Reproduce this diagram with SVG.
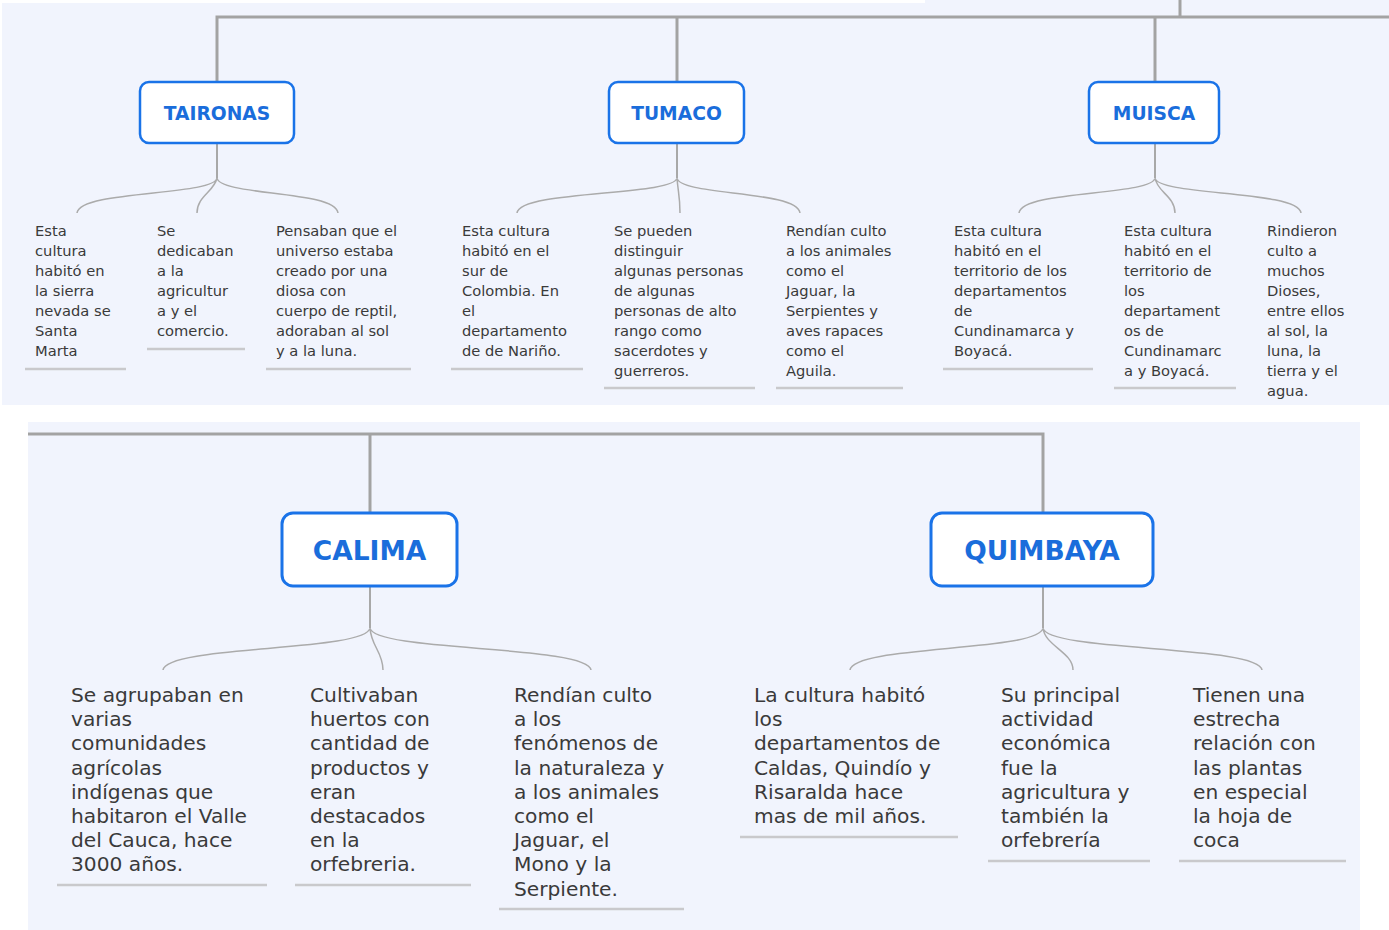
<svg xmlns="http://www.w3.org/2000/svg" width="1389" height="930" viewBox="0 0 1389 930">
<style>
.panel{fill:#f1f4fd}
.trunk{fill:none;stroke:#a3a3a3;stroke-width:3}
.stem{fill:none;stroke:#a8a8a8;stroke-width:2}
.branch{fill:none;stroke:#ababab;stroke-width:1.5}
.box{fill:#ffffff;stroke:#1a73e8;stroke-width:2.5}
.boxL{fill:#ffffff;stroke:#1a73e8;stroke-width:3}
.title{font-family:"DejaVu Sans",Verdana,sans-serif;font-weight:bold;fill:#1a6ddb;text-anchor:middle}
.t1{font-size:18.7px}
.t2{font-size:26.5px}
.txt{font-family:"DejaVu Sans",Verdana,sans-serif;fill:#3a3a3a}
.s{font-size:14.7px}
.b{font-size:20.2px}
.ul{stroke:#c9c9cc;stroke-width:2.5}
</style>
<rect width="1389" height="930" fill="#ffffff"/>
<rect class="panel" x="2" y="3" width="1387" height="402"/>
<rect class="panel" x="925" y="0" width="464" height="4"/>
<rect class="panel" x="28" y="422" width="1332" height="508"/>

<g id="connectors">
  <path class="trunk" d="M1180,0 V17 M1389,17 H217 V82 M677,17 V82 M1155,17 V82"/>
  <path class="stem" d="M217,143 V178 M677,143 V178 M1155,143 V178"/>
  <path class="branch" d="M217,178 C214,196 80,190 77,213 M217,178 C214,192 197,196 197,213 M217,178 C220,196 335,190 338,213"/>
  <path class="branch" d="M677,178 C674,196 520,190 517,213 M677,178 C678,192 680,196 680,213 M677,178 C680,196 797,190 800,213"/>
  <path class="branch" d="M1155,178 C1152,196 1022,190 1019,213 M1155,178 C1157,192 1175,196 1175,213 M1155,178 C1158,196 1298,190 1301,213"/>
  <path class="trunk" d="M28,434 H1043 V513 M370,434 V513"/>
  <path class="stem" d="M370,586 V628 M1043,586 V628"/>
  <path class="branch" d="M370,628 C366,652 166,645 163,670 M370,628 C371,646 383,652 383,670 M370,628 C374,652 588,645 591,670"/>
  <path class="branch" d="M1043,628 C1039,652 853,645 850,670 M1043,628 C1045,646 1073,652 1073,670 M1043,628 C1047,652 1259,645 1262,670"/>
  <g id="underlines">
    <line class="ul" x1="25" y1="369" x2="126" y2="369"/>
    <line class="ul" x1="147" y1="349" x2="245" y2="349"/>
    <line class="ul" x1="266" y1="369" x2="411" y2="369"/>
    <line class="ul" x1="451" y1="369" x2="583" y2="369"/>
    <line class="ul" x1="604" y1="388" x2="755" y2="388"/>
    <line class="ul" x1="776" y1="388" x2="903" y2="388"/>
    <line class="ul" x1="943" y1="369" x2="1093" y2="369"/>
    <line class="ul" x1="1114" y1="388" x2="1236" y2="388"/>
    <line class="ul" x1="57" y1="885" x2="267" y2="885"/>
    <line class="ul" x1="295" y1="885" x2="471" y2="885"/>
    <line class="ul" x1="499" y1="909" x2="684" y2="909"/>
    <line class="ul" x1="740" y1="837" x2="958" y2="837"/>
    <line class="ul" x1="988" y1="861" x2="1150" y2="861"/>
    <line class="ul" x1="1179" y1="861" x2="1346" y2="861"/>
  </g>
</g>

<g id="taironas">
  <rect class="box" x="140" y="82" width="154" height="61" rx="9"/>
  <text class="title t1" x="217" y="120">TAIRONAS</text>
</g>
<g id="tumaco">
  <rect class="box" x="609" y="82" width="135" height="61" rx="9"/>
  <text class="title t1" x="676.5" y="120">TUMACO</text>
</g>
<g id="muisca">
  <rect class="box" x="1089" y="82" width="130" height="61" rx="9"/>
  <text class="title t1" x="1154" y="120">MUISCA</text>
</g>
<g id="calima">
  <rect class="boxL" x="282" y="513" width="175" height="73" rx="11"/>
  <text class="title t2" x="369.5" y="560">CALIMA</text>
</g>
<g id="quimbaya">
  <rect class="boxL" x="931" y="513" width="222" height="73" rx="11"/>
  <text class="title t2" x="1042" y="560">QUIMBAYA</text>
</g>

<g id="taironas-1"><text class="txt s" y="236"><tspan x="35">Esta</tspan><tspan x="35" dy="20">cultura</tspan><tspan x="35" dy="20">habitó en</tspan><tspan x="35" dy="20">la sierra</tspan><tspan x="35" dy="20">nevada se</tspan><tspan x="35" dy="20">Santa</tspan><tspan x="35" dy="20">Marta</tspan></text></g>
<g id="taironas-2"><text class="txt s" y="236"><tspan x="157">Se</tspan><tspan x="157" dy="20">dedicaban</tspan><tspan x="157" dy="20">a la</tspan><tspan x="157" dy="20">agricultur</tspan><tspan x="157" dy="20">a y el</tspan><tspan x="157" dy="20">comercio.</tspan></text></g>
<g id="taironas-3"><text class="txt s" y="236"><tspan x="276">Pensaban que el</tspan><tspan x="276" dy="20">universo estaba</tspan><tspan x="276" dy="20">creado por una</tspan><tspan x="276" dy="20">diosa con</tspan><tspan x="276" dy="20">cuerpo de reptil,</tspan><tspan x="276" dy="20">adoraban al sol</tspan><tspan x="276" dy="20">y a la luna.</tspan></text></g>

<g id="tumaco-1"><text class="txt s" y="236"><tspan x="462">Esta cultura</tspan><tspan x="462" dy="20">habitó en el</tspan><tspan x="462" dy="20">sur de</tspan><tspan x="462" dy="20">Colombia. En</tspan><tspan x="462" dy="20">el</tspan><tspan x="462" dy="20">departamento</tspan><tspan x="462" dy="20">de de Nariño.</tspan></text></g>
<g id="tumaco-2"><text class="txt s" y="236"><tspan x="614">Se pueden</tspan><tspan x="614" dy="20">distinguir</tspan><tspan x="614" dy="20">algunas personas</tspan><tspan x="614" dy="20">de algunas</tspan><tspan x="614" dy="20">personas de alto</tspan><tspan x="614" dy="20">rango como</tspan><tspan x="614" dy="20">sacerdotes y</tspan><tspan x="614" dy="20">guerreros.</tspan></text></g>
<g id="tumaco-3"><text class="txt s" y="236"><tspan x="786">Rendían culto</tspan><tspan x="786" dy="20">a los animales</tspan><tspan x="786" dy="20">como el</tspan><tspan x="786" dy="20">Jaguar, la</tspan><tspan x="786" dy="20">Serpientes y</tspan><tspan x="786" dy="20">aves rapaces</tspan><tspan x="786" dy="20">como el</tspan><tspan x="786" dy="20">Aguila.</tspan></text></g>

<g id="muisca-1"><text class="txt s" y="236"><tspan x="954">Esta cultura</tspan><tspan x="954" dy="20">habitó en el</tspan><tspan x="954" dy="20">territorio de los</tspan><tspan x="954" dy="20">departamentos</tspan><tspan x="954" dy="20">de</tspan><tspan x="954" dy="20">Cundinamarca y</tspan><tspan x="954" dy="20">Boyacá.</tspan></text></g>
<g id="muisca-2"><text class="txt s" y="236"><tspan x="1124">Esta cultura</tspan><tspan x="1124" dy="20">habitó en el</tspan><tspan x="1124" dy="20">territorio de</tspan><tspan x="1124" dy="20">los</tspan><tspan x="1124" dy="20">departament</tspan><tspan x="1124" dy="20">os de</tspan><tspan x="1124" dy="20">Cundinamarc</tspan><tspan x="1124" dy="20">a y Boyacá.</tspan></text></g>
<g id="muisca-3"><text class="txt s" y="236"><tspan x="1267">Rindieron</tspan><tspan x="1267" dy="20">culto a</tspan><tspan x="1267" dy="20">muchos</tspan><tspan x="1267" dy="20">Dioses,</tspan><tspan x="1267" dy="20">entre ellos</tspan><tspan x="1267" dy="20">al sol, la</tspan><tspan x="1267" dy="20">luna, la</tspan><tspan x="1267" dy="20">tierra y el</tspan><tspan x="1267" dy="20">agua.</tspan></text></g>

<g id="calima-1"><text class="txt b" y="702"><tspan x="71">Se agrupaban en</tspan><tspan x="71" dy="24.2">varias</tspan><tspan x="71" dy="24.2">comunidades</tspan><tspan x="71" dy="24.2">agrícolas</tspan><tspan x="71" dy="24.2">indígenas que</tspan><tspan x="71" dy="24.2">habitaron el Valle</tspan><tspan x="71" dy="24.2">del Cauca, hace</tspan><tspan x="71" dy="24.2">3000 años.</tspan></text></g>
<g id="calima-2"><text class="txt b" y="702"><tspan x="310">Cultivaban</tspan><tspan x="310" dy="24.2">huertos con</tspan><tspan x="310" dy="24.2">cantidad de</tspan><tspan x="310" dy="24.2">productos y</tspan><tspan x="310" dy="24.2">eran</tspan><tspan x="310" dy="24.2">destacados</tspan><tspan x="310" dy="24.2">en la</tspan><tspan x="310" dy="24.2">orfebreria.</tspan></text></g>
<g id="calima-3"><text class="txt b" y="702"><tspan x="514">Rendían culto</tspan><tspan x="514" dy="24.2">a los</tspan><tspan x="514" dy="24.2">fenómenos de</tspan><tspan x="514" dy="24.2">la naturaleza y</tspan><tspan x="514" dy="24.2">a los animales</tspan><tspan x="514" dy="24.2">como el</tspan><tspan x="514" dy="24.2">Jaguar, el</tspan><tspan x="514" dy="24.2">Mono y la</tspan><tspan x="514" dy="24.2">Serpiente.</tspan></text></g>

<g id="quimbaya-1"><text class="txt b" y="702"><tspan x="754">La cultura habitó</tspan><tspan x="754" dy="24.2">los</tspan><tspan x="754" dy="24.2">departamentos de</tspan><tspan x="754" dy="24.2">Caldas, Quindío y</tspan><tspan x="754" dy="24.2">Risaralda hace</tspan><tspan x="754" dy="24.2">mas de mil años.</tspan></text></g>
<g id="quimbaya-2"><text class="txt b" y="702"><tspan x="1001">Su principal</tspan><tspan x="1001" dy="24.2">actividad</tspan><tspan x="1001" dy="24.2">económica</tspan><tspan x="1001" dy="24.2">fue la</tspan><tspan x="1001" dy="24.2">agricultura y</tspan><tspan x="1001" dy="24.2">también la</tspan><tspan x="1001" dy="24.2">orfebrería</tspan></text></g>
<g id="quimbaya-3"><text class="txt b" y="702"><tspan x="1193">Tienen una</tspan><tspan x="1193" dy="24.2">estrecha</tspan><tspan x="1193" dy="24.2">relación con</tspan><tspan x="1193" dy="24.2">las plantas</tspan><tspan x="1193" dy="24.2">en especial</tspan><tspan x="1193" dy="24.2">la hoja de</tspan><tspan x="1193" dy="24.2">coca</tspan></text></g>
</svg>
